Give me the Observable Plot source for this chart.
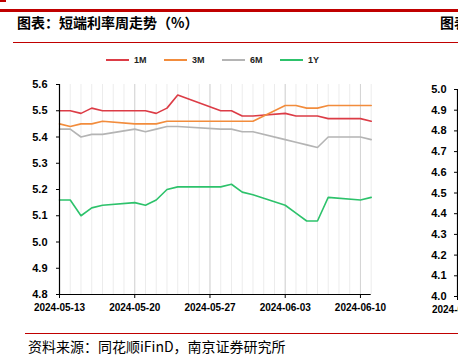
<!DOCTYPE html>
<html><head><meta charset="utf-8">
<script src="https://cdn.jsdelivr.net/npm/d3@7"></script>
<script src="https://cdn.jsdelivr.net/npm/@observablehq/plot@0.6"></script>
<style>
html,body{margin:0;padding:0;background:#fff;overflow:hidden;}
#wrap{position:relative;width:458px;height:362px;overflow:hidden;font-family:"Liberation Sans",Arial,sans-serif;}
.abs{position:absolute;}
.cjk{font-family:"Noto Sans CJK SC",sans-serif;color:#000;white-space:nowrap;}
#legend{display:flex;align-items:center;}
.li{display:flex;align-items:center;width:58px;}
.sw{width:23px;height:2px;margin-right:5px;}
.lt{font:bold 9px "Liberation Sans",Arial,sans-serif;color:#222;}
#chart svg,#chart2 svg{max-width:none !important;}
</style></head><body>
<div id="wrap">
  <div class="abs" style="left:0;top:0;width:6px;height:2px;background:#C00000"></div>
  <div class="abs" style="left:0;top:9px;width:458px;height:3px;background:#C00000"></div>
  <div class="abs cjk" style="left:17px;top:12px;font-size:14px;font-weight:700;line-height:20px;">图表：短端利率周走势（%）</div>
  <div class="abs cjk" style="left:440px;top:12px;font-size:14px;font-weight:700;line-height:20px;">图表</div>
  <div class="abs" style="left:13px;top:42px;width:445px;height:1px;background:#C00000"></div>
  <div id="legend" class="abs" style="left:106px;top:54px;height:12px;"></div>
  <div id="chart2" class="abs" style="left:0;top:74px;width:520px;height:250px"></div>
  <div id="chart" class="abs" style="left:0;top:74px;width:458px;height:250px"></div>
  <div class="abs" style="left:25px;top:333px;width:433px;height:1px;background:#C00000"></div>
  <div class="abs cjk" style="left:28px;top:336px;font-size:14px;line-height:20px;">资料来源：同花顺iFinD，南京证券研究所</div>
</div>
<script>
// ---- data ----
const dates = ["2024-05-13","2024-05-14","2024-05-15","2024-05-16","2024-05-17",
  "2024-05-20","2024-05-21","2024-05-22","2024-05-23","2024-05-24",
  "2024-05-28","2024-05-29","2024-05-30","2024-05-31",
  "2024-06-03","2024-06-04","2024-06-05","2024-06-06","2024-06-07",
  "2024-06-10","2024-06-11"];
const names = ["1M","3M","6M","1Y"];
const colors = ["#DC3C46","#F28C3C","#B4B4B4","#2DC26B"];
const v1M = [5.50,5.50,5.49,5.51,5.50, 5.50,5.50,5.49,5.51,5.56, 5.50,5.50,5.48,5.48, 5.49,5.48,5.48,5.48,5.47, 5.47,5.46];
const v3M = [5.45,5.44,5.45,5.45,5.46, 5.45,5.45,5.45,5.46,5.46, 5.46,5.46,5.46,5.46, 5.52,5.52,5.51,5.51,5.52, 5.52,5.52];
const v6M = [5.43,5.43,5.40,5.41,5.41, 5.43,5.42,5.43,5.44,5.44, 5.43,5.43,5.42,5.42, 5.39,5.38,5.37,5.36,5.40, 5.40,5.39];
const v1Y = [5.16,5.16,5.10,5.13,5.14, 5.15,5.14,5.16,5.20,5.21, 5.21,5.22,5.19,5.18, 5.14,5.11,5.08,5.08,5.17, 5.16,5.17];
const xStart = "2024-05-13", xEnd = "2024-06-11";
const xTicks = ["2024-05-13","2024-05-20","2024-05-27","2024-06-03","2024-06-10"];
const yTicks = [4.8,4.9,5.0,5.1,5.2,5.3,5.4,5.5,5.6];
const yTicksRight = [4.0,4.1,4.2,4.3,4.4,4.5,4.6,4.7,4.8,4.9,5.0];

// ---- build ----
const parse = d3.utcParse("%Y-%m-%d");
const fmt = d3.utcFormat("%Y-%m-%d");
const seriesVals = [v1M, v3M, v6M, v1Y];
const rows = names.flatMap((n, k) => dates.map((d, i) => ({date: parse(d), value: seriesVals[k][i], name: n})));
const x0 = parse(xStart), x1 = parse(xEnd);
const days = d3.utcDay.range(x0, d3.utcDay.offset(x1, 1));
const tickDates = xTicks.map(parse);

// legend
const lg = document.getElementById("legend");
names.forEach((n, i) => {
  const it = document.createElement("div"); it.className = "li";
  const sw = document.createElement("div"); sw.className = "sw"; sw.style.background = colors[i];
  const t = document.createElement("span"); t.className = "lt"; t.textContent = n;
  it.appendChild(sw); it.appendChild(t); lg.appendChild(it);
});

const axisStyle = {fontFamily: "'Liberation Sans', Arial, sans-serif", fontWeight: "bold", color: "#000", background: "transparent", overflow: "visible", maxWidth: "none"};

const chart = Plot.plot({
  width: 458, height: 250,
  marginLeft: 59, marginRight: 87.3, marginTop: 10, marginBottom: 30,
  style: axisStyle,
  x: {type: "utc", domain: [x0, x1], label: null},
  y: {domain: [4.8, 5.6], label: null},
  color: {domain: names, range: colors},
  marks: [
    Plot.gridX(days, {stroke: "#ececec", strokeOpacity: 1}),
    Plot.gridX(tickDates, {stroke: "#d4d4d4", strokeOpacity: 1}),
    Plot.line(rows, {x: "date", y: "value", z: "name", stroke: "name", strokeWidth: 1.6}),
    Plot.axisY(yTicks, {tickFormat: d => d.toFixed(1), tickSize: 3, tickPadding: 9, fontSize: 11, stroke: "#000", label: null}),
    Plot.axisX(tickDates, {tickFormat: fmt, tickSize: 4, tickPadding: 5, fontSize: 10, stroke: "#000", label: null}),
    Plot.ruleX([x0], {stroke: "#000", strokeWidth: 1.2}),
    Plot.ruleY([4.8], {stroke: "#000", strokeWidth: 1.2})
  ]
});
document.getElementById("chart").appendChild(chart);

// partial neighbouring chart at right edge (cut off)
const chart2 = Plot.plot({
  width: 520, height: 250,
  marginLeft: 457, marginRight: 20, marginTop: 15, marginBottom: 28,
  style: axisStyle,
  x: {type: "utc", domain: [x0, x1], label: null},
  y: {domain: [4.0, 5.0], label: null},
  marks: [
    Plot.axisY(yTicksRight, {tickFormat: d => d.toFixed(1), tickSize: 3, tickPadding: 8, fontSize: 11, stroke: "#000", label: null}),
    Plot.axisX([x0], {tickFormat: fmt, tickSize: 4, tickPadding: 5, fontSize: 10, stroke: "#000", label: null}),
    Plot.ruleX([x0], {stroke: "#000", strokeWidth: 1.2})
  ]
});
document.getElementById("chart2").appendChild(chart2);
</script>
</body></html>
